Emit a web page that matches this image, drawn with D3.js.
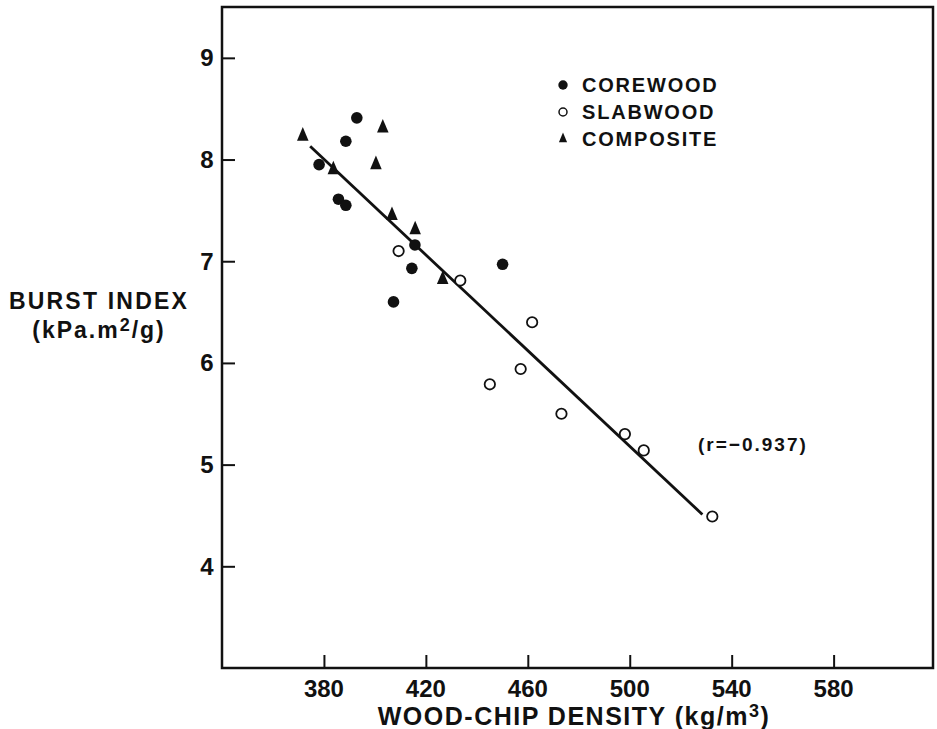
<!DOCTYPE html>
<html><head><meta charset="utf-8">
<script src="https://cdn.jsdelivr.net/npm/d3@7"></script>
<style>
body{margin:0;background:#fff;}
text{font-family:"Liberation Sans",Arial,sans-serif;font-weight:bold;fill:#111;}
</style></head>
<body><svg id="c" width="937" height="729"></svg>
<script>
// Data
const corewoodX = [392.9, 388.6, 378.1, 385.7, 388.6, 415.7, 414.5, 407.3, 450.1];
const corewoodY = [8.41, 8.18, 7.95, 7.61, 7.55, 7.16, 6.93, 6.60, 6.97];
const slabwoodX = [409.3, 433.5, 461.7, 457.2, 445.1, 473.2, 498.1, 505.5, 532.4];
const slabwoodY = [7.10, 6.81, 6.40, 5.94, 5.79, 5.50, 5.30, 5.14, 4.49];
const compositeX = [371.7, 403.1, 400.4, 383.7, 406.7, 415.8, 426.6];
const compositeY = [8.23, 8.31, 7.95, 7.90, 7.45, 7.31, 6.82];
const regressionX = [374.6, 528.5];
const regressionY = [8.13, 4.51];
const xTicks = [380, 420, 460, 500, 540, 580];
const yTicks = [4, 5, 6, 7, 8, 9];
const legendLabels = ["COREWOOD", "SLABWOOD", "COMPOSITE"];
const rLabel = "(r=\u22120.937)";

const svg = d3.select("#c");
const x = d3.scaleLinear().domain([340, 619]).range([222, 933]);
const y = d3.scaleLinear().domain([3, 9.5]).range([668, 7]);
const ink = "#111";

// frame
svg.append("rect").attr("x", 222).attr("y", 7).attr("width", 711).attr("height", 661)
  .attr("fill", "none").attr("stroke", ink).attr("stroke-width", 2.5);

// x axis
const xa = svg.append("g").attr("transform", "translate(0,668)")
  .call(d3.axisTop(x).tickValues(xTicks).tickSize(13).tickFormat(""));
xa.select(".domain").remove();
xa.selectAll("line").attr("stroke", ink).attr("stroke-width", 2);
svg.append("g").selectAll("text").data(xTicks).join("text")
  .attr("x", d => x(d)).attr("y", 697).attr("text-anchor", "middle")
  .attr("font-size", 24).text(d => d);

// y axis
const ya = svg.append("g").attr("transform", "translate(222,0)")
  .call(d3.axisRight(y).tickValues(yTicks).tickSize(13).tickFormat(""));
ya.select(".domain").remove();
ya.selectAll("line").attr("stroke", ink).attr("stroke-width", 2);
svg.append("g").selectAll("text").data(yTicks).join("text")
  .attr("x", 207).attr("y", d => y(d) + 8.5).attr("text-anchor", "middle")
  .attr("font-size", 24).text(d => d);

// axis titles
const xt = svg.append("text").attr("x", 574).attr("y", 725).attr("text-anchor", "middle")
  .attr("font-size", 25).attr("letter-spacing", 1.5);
xt.append("tspan").text("WOOD-CHIP DENSITY (kg/m");
xt.append("tspan").attr("dy", -8).attr("font-size", 18).text("3");
xt.append("tspan").attr("dy", 8).text(")");

svg.append("text").attr("x", 99).attr("y", 309).attr("text-anchor", "middle")
  .attr("font-size", 23).attr("letter-spacing", 2.2).text("BURST  INDEX");
const yt2 = svg.append("text").attr("x", 99).attr("y", 338).attr("text-anchor", "middle")
  .attr("font-size", 23).attr("letter-spacing", 2);
yt2.append("tspan").text("(kPa.m");
yt2.append("tspan").attr("dy", -7).attr("font-size", 18).text("2");
yt2.append("tspan").attr("dy", 7).text("/g)");

// regression line
svg.append("line").attr("x1", x(regressionX[0])).attr("y1", y(regressionY[0]))
  .attr("x2", x(regressionX[1])).attr("y2", y(regressionY[1]))
  .attr("stroke", ink).attr("stroke-width", 2.8);

const tri = d3.symbol().type(d3.symbolTriangle);

// points
svg.append("g").selectAll("circle").data(corewoodX).join("circle")
  .attr("cx", d => x(d)).attr("cy", (d, i) => y(corewoodY[i])).attr("r", 5.8).attr("fill", ink);
svg.append("g").selectAll("circle").data(slabwoodX).join("circle")
  .attr("cx", d => x(d)).attr("cy", (d, i) => y(slabwoodY[i])).attr("r", 5.2)
  .attr("fill", "#fff").attr("stroke", ink).attr("stroke-width", 1.8);
svg.append("g").selectAll("path").data(compositeX).join("path")
  .attr("d", tri.size(80)())
  .attr("transform", (d, i) => `translate(${x(d)},${y(compositeY[i])}) scale(0.85,1.15)`)
  .attr("fill", ink);

// legend
const lg = svg.append("g");
const rows = [85, 112, 139];
lg.append("circle").attr("cx", 563).attr("cy", rows[0]).attr("r", 4.7).attr("fill", ink);
lg.append("circle").attr("cx", 563).attr("cy", rows[1]).attr("r", 4).attr("fill", "#fff")
  .attr("stroke", ink).attr("stroke-width", 1.5);
lg.append("path").attr("d", tri.size(40)())
  .attr("transform", `translate(563,${rows[2]}) scale(0.85,1.15)`).attr("fill", ink);
lg.selectAll("text").data(legendLabels).join("text")
  .attr("x", 582).attr("y", (d, i) => rows[i] + 7).attr("font-size", 20)
  .attr("letter-spacing", 1.8).text(d => d);

// r annotation
svg.append("text").attr("x", 698).attr("y", 451).attr("font-size", 19)
  .attr("letter-spacing", 2).text(rLabel);
</script></body></html>
